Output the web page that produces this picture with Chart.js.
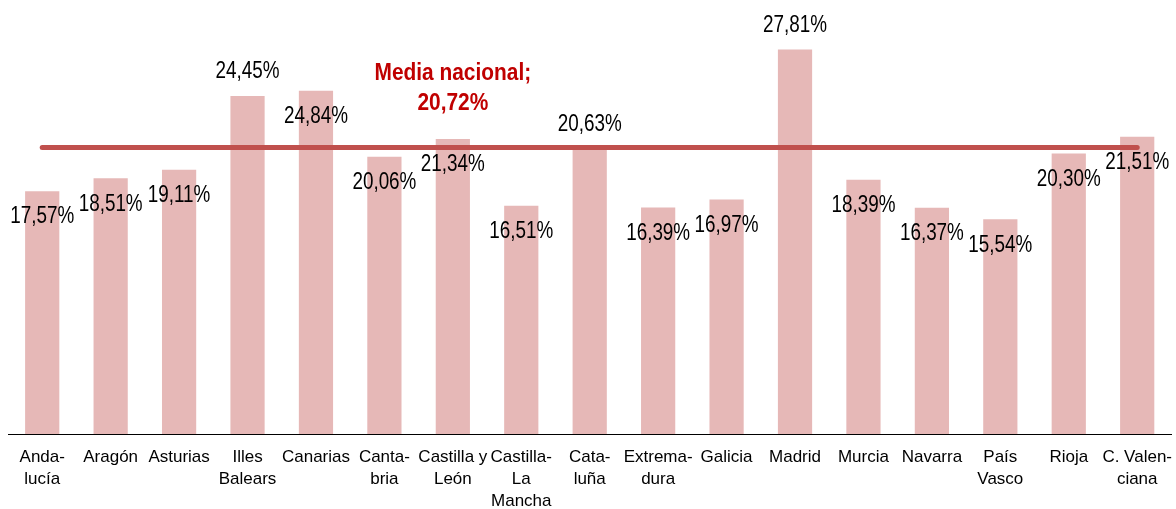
<!DOCTYPE html>
<html>
<head>
<meta charset="utf-8">
<script src="https://cdn.jsdelivr.net/npm/chart.js@4"></script>
<style>
  body { margin: 0; background: #fff; }
</style>
</head>
<body>
<canvas id="myChart" width="1176" height="509"></canvas>
<script>
const canvas = document.getElementById('myChart');

// Comunidades autónomas (etiquetas en varias líneas como en el original)
const comunidades = [
  ['Anda-', 'lucía'], 'Aragón', 'Asturias', ['Illes', 'Balears'], 'Canarias',
  ['Canta-', 'bria'], ['Castilla y', 'León'], ['Castilla-', 'La', 'Mancha'],
  ['Cata-', 'luña'], ['Extrema-', 'dura'], 'Galicia', 'Madrid', 'Murcia',
  'Navarra', ['País', 'Vasco'], 'Rioja', ['C. Valen-', 'ciana']
];

// Porcentaje por comunidad
const porcentajes = [17.57, 18.51, 19.11, 24.45, 24.84, 20.06, 21.34, 16.51, 20.63,
  16.39, 16.97, 27.81, 18.39, 16.37, 15.54, 20.30, 21.51];

const mediaNacional = 20.72;

// etiquetas que van encima de la barra (el resto va dentro, bajo el borde)
const etiquetasArriba = [3, 8, 11];

const fmt = v => v.toFixed(2).replace('.', ',') + '%';
const FONT = "'Liberation Sans', Arial, sans-serif";

// texto estrechado en horizontal (la fuente original es tipo Arial Narrow)
function textoEstrecho(ctx, txt, x, y, sx) {
  ctx.save();
  ctx.translate(x, y);
  ctx.scale(sx, 1);
  ctx.fillText(txt, 0, 0);
  ctx.restore();
}

const labelPlugin = {
  id: 'labelPlugin',
  afterDatasetsDraw(chart) {
    const ctx = chart.ctx;
    const meta = chart.getDatasetMeta(1);
    ctx.save();
    ctx.fillStyle = '#000';
    ctx.font = '23px ' + FONT;
    ctx.textAlign = 'center';
    ctx.textBaseline = 'middle';
    meta.data.forEach((bar, i) => {
      let y = etiquetasArriba.includes(i) ? bar.y - 24 : bar.y + 26;
      textoEstrecho(ctx, fmt(porcentajes[i]), bar.x, y, 0.82);
    });
    // rótulo de la media nacional
    const x = chart.scales.x.getPixelForValue(6);
    const ym = chart.scales.y.getPixelForValue(mediaNacional);
    ctx.fillStyle = '#c00000';
    ctx.font = 'bold 24px ' + FONT;
    textoEstrecho(ctx, 'Media nacional;', x, ym - 74, 0.87);
    textoEstrecho(ctx, fmt(mediaNacional), x, ym - 44, 0.87);
    ctx.restore();
  }
};

let myChart = new Chart(canvas, {
  type: 'bar',
  data: {
    labels: comunidades,
    datasets: [
      {
        type: 'line',
        data: porcentajes.map(() => mediaNacional),
        borderColor: '#c0504d',
        borderWidth: 5,
        borderCapStyle: 'round',
        pointRadius: 0,
        order: 0
      },
      {
        data: porcentajes,
        backgroundColor: '#e6b8b7',
        barPercentage: 0.5,
        categoryPercentage: 1,
        order: 1
      }
    ]
  },
  options: {
    responsive: false,
    animation: false,
    layout: { padding: { left: 8, right: 0, top: 0, bottom: 0 } },
    scales: {
      y: {
        display: false,
        min: 0,
        max: 31.4
      },
      x: {
        grid: { display: false },
        border: { display: true, color: '#000', width: 1 },
        ticks: {
          color: '#000',
          font: { family: FONT, size: 17, lineHeight: 1.3 },
          maxRotation: 0,
          autoSkip: false,
          padding: 4
        },
        afterFit(scale) { scale.height = 75; }
      }
    },
    plugins: {
      legend: { display: false },
      tooltip: { enabled: false }
    }
  },
  plugins: [labelPlugin]
});
</script>
</body>
</html>
